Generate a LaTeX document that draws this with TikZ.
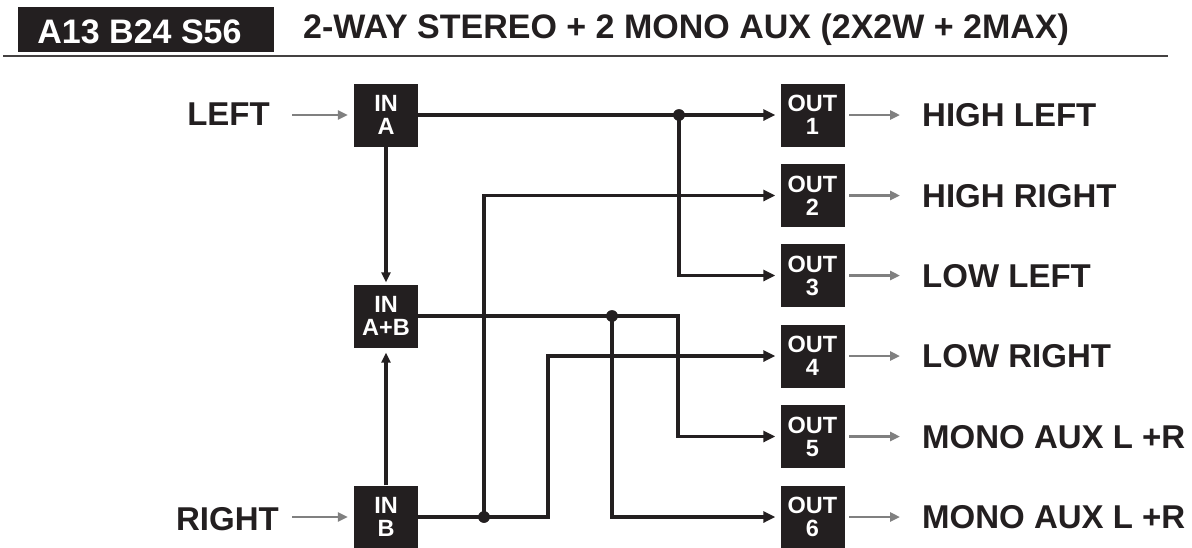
\documentclass[tikz,border=0pt]{standalone}
\usepackage{fontspec}
\setmainfont{Liberation Sans}
\usetikzlibrary{arrows.meta,calc}
\definecolor{boxc}{RGB}{35,31,32}
\definecolor{txtc}{RGB}{35,31,32}
\definecolor{grayc}{RGB}{128,128,128}
\tikzset{
  blk/.style={fill=boxc, text=white, minimum width=64pt, minimum height=63pt, inner sep=0pt,
    align=center, font=\fontsize{23.5}{23}\selectfont\bfseries},
  lbl/.style={font=\fontsize{33}{33}\selectfont\bfseries, text=txtc, inner sep=0pt},
  hlbl/.style={font=\fontsize{34}{34}\selectfont\bfseries, text=txtc, inner sep=0pt},
  wire/.style={line width=3.3pt, draw=boxc},
  tip/.style={-{Triangle[length=12pt,width=11pt]}, shorten >=5pt},
  vtip/.style={-{Triangle[length=10pt,width=9pt]}},
  garrow/.style={line width=2.6pt, draw=grayc, -{Triangle[length=10pt,width=9pt]}},
  jdot/.style={circle, fill=boxc, inner sep=0pt, minimum size=11.5pt},
}
\begin{document}
\begin{tikzpicture}[x=1pt,y=-1pt]
\useasboundingbox (0,0) rectangle (1192,547);
% header
\node[fill=boxc, minimum width=256pt, minimum height=45pt, inner sep=0pt] (hdr) at (146,29.5) {};
\node[hlbl, text=white, anchor=base] (hdrtxt) at (139.5,43) {A13 B24 S56};
\node[hlbl, anchor=base west] (title) at (303,38) {2-WAY STEREO + 2 MONO AUX (2X2W + 2MAX)};
\coordinate (rulel) at (3,55.5);
\coordinate (ruler) at (1168,55.5);
\draw[line width=2pt, draw=boxc!85] (rulel) -- (ruler);
% input boxes
\node[blk] (ina) at (386,115) {IN\\A};
\node[blk] (inab) at (386,316) {IN\\A+B};
\node[blk] (inb) at (386,517) {IN\\B};
% output boxes and labels
\foreach \i/\y/\t in {1/115/HIGH LEFT, 2/195.5/HIGH RIGHT, 3/275.5/LOW LEFT, 4/356/LOW RIGHT, 5/436.5/MONO AUX L +R, 6/517/MONO AUX L +R}{
  \node[blk] (out\i) at (812.5,\y) {OUT\\\i};
  \node[lbl, anchor=base west] (ol\i) at (922,\y+11.5) {\t};
  \draw[garrow, shorten <=4.5pt, shorten >=22pt] (out\i.east) -- (ol\i.west |- out\i.east);
}
% input labels
\node[lbl, anchor=base east] (lleft) at (270,125) {LEFT};
\node[lbl, anchor=base east] (lright) at (279,530) {RIGHT};
\draw[garrow, shorten <=22pt, shorten >=6pt] (lleft.east |- ina.west) -- (ina.west);
\draw[garrow, shorten <=13pt, shorten >=6pt] (lright.east |- inb.west) -- (inb.west);
% junctions
\node[jdot] (d1) at (679,115) {};
\node[jdot] (d2) at (612,316) {};
\node[jdot] (d3) at (484,517) {};
\coordinate (k5) at (678,316);
\coordinate (k4) at (548,517);
% wires
\draw[wire,tip] (ina.east) -- (out1.west);
\draw[wire,tip] (d1.center) |- (out3.west);
\draw[wire,vtip, shorten >=2pt] (ina.south) -- (inab.north);
\draw[wire,vtip, shorten >=5pt] (inb.north) -- (inab.south);
\draw[wire,tip] (inab.east) -- (k5) |- (out5.west);
\draw[wire,tip] (d2.center) |- (out6.west);
\draw[wire,tip] (inb.east) -- (k4) |- (out4.west);
\draw[wire,tip] (d3.center) |- (out2.west);
% redraw dots on top
\node[jdot] at (d1) {};
\node[jdot] at (d2) {};
\node[jdot] at (d3) {};
\end{tikzpicture}
\end{document}
